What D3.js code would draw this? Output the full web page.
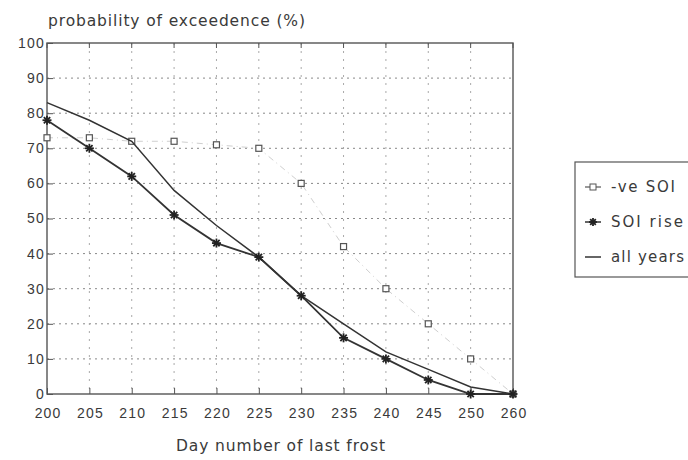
<!DOCTYPE html>
<html>
<head>
<meta charset="utf-8">
<script src="https://cdn.jsdelivr.net/npm/d3@7"></script>
<style>
  body { margin: 0; background: #fff; }
  svg { display: block; font-family: "DejaVu Sans", "Liberation Sans", sans-serif; }
  .tick text { fill: #3a3a3a; font-size: 14px; letter-spacing: 1.2px; }
</style>
</head>
<body>
<svg id="chart" width="688" height="460"></svg>
<script>
// day number of last frost (axis is evenly spaced, last step jumps 250 -> 260)
const days = [200, 205, 210, 215, 220, 225, 230, 235, 240, 245, 250, 260];
const negSOI = [73, 73, 72, 72, 71, 70, 60, 42, 30, 20, 10, 0];
const soiRise = [78, 70, 62, 51, 43, 39, 28, 16, 10, 4, 0, 0];
const allYears = [83, 78, 72, 58, 48, 39, 28, 20, 12, 7, 2, 0];
const yTicks = [0, 10, 20, 30, 40, 50, 60, 70, 80, 90, 100];

const svg = d3.select("#chart");
const plot = { left: 47, right: 513, top: 43, bottom: 394 };
const ink = "#333";
const textColor = "#3a3a3a";

const x = d3.scalePoint().domain(days).range([plot.left, plot.right]);
const y = d3.scaleLinear().domain([0, 100]).range([plot.bottom, plot.top]);

// grid
svg.append("g").selectAll("line")
    .data(yTicks.slice(1, -1))
    .join("line")
    .attr("x1", plot.left).attr("x2", plot.right)
    .attr("y1", d => y(d)).attr("y2", d => y(d))
    .attr("stroke", "#888").attr("stroke-width", 1)
    .attr("stroke-dasharray", "2,4");
svg.append("g").selectAll("line")
    .data(days.slice(1, -1))
    .join("line")
    .attr("x1", d => x(d)).attr("x2", d => x(d))
    .attr("y1", plot.top).attr("y2", plot.bottom)
    .attr("stroke", "#aaa").attr("stroke-width", 1)
    .attr("stroke-dasharray", "2,6");

// axes
const xAxis = svg.append("g")
    .attr("transform", `translate(0,${plot.bottom})`)
    .call(d3.axisBottom(x).tickSize(-6).tickPadding(14));
const yAxis = svg.append("g")
    .attr("transform", `translate(${plot.left},0)`)
    .call(d3.axisLeft(y).tickValues(yTicks).tickSize(-6).tickPadding(2));
[xAxis, yAxis].forEach(a => {
    a.select(".domain").remove();
    a.selectAll(".tick line").attr("stroke", "#555");
});
xAxis.selectAll(".tick text").attr("dx", "0.6px");

// top ticks
svg.append("g").selectAll("line")
    .data(days)
    .join("line")
    .attr("x1", d => x(d)).attr("x2", d => x(d))
    .attr("y1", plot.top).attr("y2", plot.top + 5)
    .attr("stroke", "#555");

svg.append("rect")
    .attr("x", plot.left).attr("y", plot.top)
    .attr("width", plot.right - plot.left).attr("height", plot.bottom - plot.top)
    .attr("fill", "none").attr("stroke", "#555").attr("stroke-width", 1.4);

const line = d3.line().x((d, i) => x(days[i])).y(d => y(d));

// -ve SOI: faint dashed line with open squares
svg.append("path")
    .datum(negSOI)
    .attr("d", line)
    .attr("fill", "none").attr("stroke", "#cfcfcf").attr("stroke-width", 1)
    .attr("stroke-dasharray", "6,4,1,4");
svg.append("g").selectAll("rect")
    .data(negSOI)
    .join("rect")
    .attr("x", (d, i) => x(days[i]) - 3)
    .attr("y", d => y(d) - 3)
    .attr("width", 6).attr("height", 6)
    .attr("fill", "#fff").attr("stroke", "#555").attr("stroke-width", 1.2);

// all years
svg.append("path")
    .datum(allYears)
    .attr("d", line)
    .attr("fill", "none").attr("stroke", ink).attr("stroke-width", 1.5);

// SOI rise: line with asterisk markers
svg.append("path")
    .datum(soiRise)
    .attr("d", line)
    .attr("fill", "none").attr("stroke", ink).attr("stroke-width", 1.8);

const arms = [0, 45, 90, 135];
function asterisk(g, r) {
    g.selectAll("line.arm")
        .data(arms)
        .join("line")
        .attr("class", "arm")
        .attr("x1", a => -r * Math.cos(a * Math.PI / 180))
        .attr("y1", a => -r * Math.sin(a * Math.PI / 180))
        .attr("x2", a => r * Math.cos(a * Math.PI / 180))
        .attr("y2", a => r * Math.sin(a * Math.PI / 180))
        .attr("stroke", "#222").attr("stroke-width", 1.8);
}
svg.append("g").selectAll("g")
    .data(soiRise)
    .join("g")
    .attr("transform", (d, i) => `translate(${x(days[i])},${y(d)})`)
    .each(function () { asterisk(d3.select(this), 4.5); });

// title and axis label
svg.append("text")
    .attr("x", 48).attr("y", 26)
    .attr("fill", textColor).attr("font-size", 15.5)
    .attr("textLength", 257).attr("lengthAdjust", "spacing")
    .text("probability of exceedence (%)");
svg.append("text")
    .attr("x", 176).attr("y", 451)
    .attr("fill", textColor).attr("font-size", 15.5)
    .attr("textLength", 209).attr("lengthAdjust", "spacing")
    .text("Day number of last frost");

// legend
const lg = svg.append("g").attr("transform", "translate(575,162)");
lg.append("rect")
    .attr("x", 0).attr("y", 0).attr("width", 130).attr("height", 115)
    .attr("fill", "#fff").attr("stroke", "#555").attr("stroke-width", 1.2);
const items = [
    { name: "-ve SOI", yy: 25, w: 64 },
    { name: "SOI rise", yy: 60, w: 72 },
    { name: "all years", yy: 95, w: 73 }
];
items.forEach((it, i) => {
    const g = lg.append("g").attr("transform", `translate(0,${it.yy})`);
    g.append("line").attr("x1", 10).attr("x2", 26)
        .attr("stroke", i === 0 ? "#777" : ink).attr("stroke-width", 1.5);
    if (i === 0) {
        g.append("rect").attr("x", 15).attr("y", -3).attr("width", 6).attr("height", 6)
            .attr("fill", "#fff").attr("stroke", "#555");
    }
    if (i === 1) {
        asterisk(g.append("g").attr("transform", "translate(18,0)"), 4);
    }
    g.append("text").attr("x", 36).attr("y", 5)
        .attr("fill", textColor).attr("font-size", 15)
        .attr("textLength", it.w).attr("lengthAdjust", "spacing")
        .text(it.name);
});
</script>
</body>
</html>
